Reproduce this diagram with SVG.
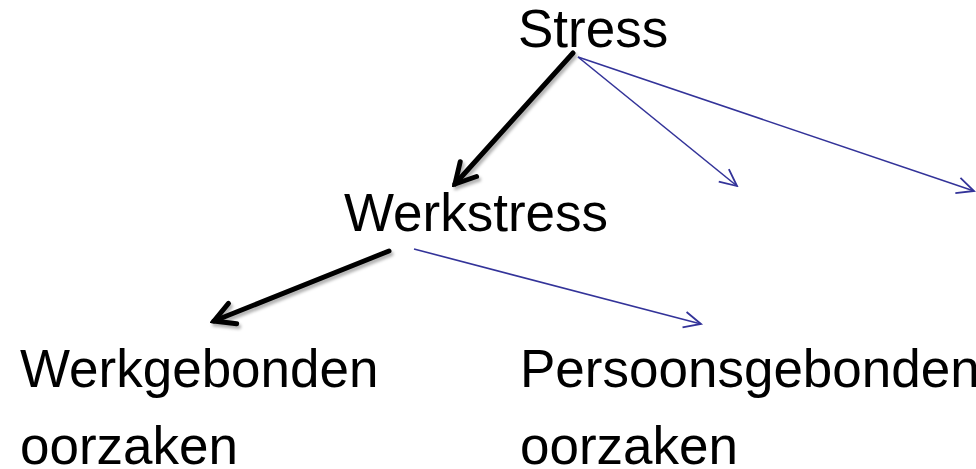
<svg xmlns="http://www.w3.org/2000/svg" width="976" height="469" viewBox="0 0 976 469">
  <style>
    text { font-family: "Liberation Sans", Arial, sans-serif; font-size: 53px; fill: #000; }
    .blk { stroke: #000; stroke-width: 5; fill: none; stroke-linecap: round; }
    .blu { stroke: #333399; stroke-width: 1.6; fill: none; }
  </style>
  <defs>
    <marker id="ah-blk" markerUnits="userSpaceOnUse" viewBox="-24 -14 28 28" refX="0" refY="0" markerWidth="28" markerHeight="28" orient="auto">
      <path d="M-20,-11 L0,0 L-20,11" fill="none" stroke="#000" stroke-width="5" stroke-linecap="round" stroke-linejoin="miter"/>
    </marker>
    <marker id="ah-blu" markerUnits="userSpaceOnUse" viewBox="-20 -10 22 20" refX="0" refY="0" markerWidth="22" markerHeight="20" orient="auto">
      <path d="M-17,-8 L0,0 L-17,8" fill="none" stroke="#333399" stroke-width="1.8"/>
    </marker>
    <filter id="sh" x="-20%" y="-20%" width="140%" height="140%">
      <feDropShadow dx="2" dy="3" stdDeviation="1.5" flood-color="#000" flood-opacity="0.3"/>
    </filter>
  </defs>

  <g id="connectors">
    <line class="blk" x1="573" y1="53" x2="455" y2="184" marker-end="url(#ah-blk)" filter="url(#sh)"/>
    <line class="blk" x1="389" y1="251" x2="214" y2="321" marker-end="url(#ah-blk)" filter="url(#sh)"/>
    <line class="blu" x1="578" y1="57" x2="737" y2="186" marker-end="url(#ah-blu)"/>
    <line class="blu" x1="578" y1="57" x2="974" y2="191" marker-end="url(#ah-blu)"/>
    <line class="blu" x1="414" y1="249" x2="701" y2="324" marker-end="url(#ah-blu)"/>
  </g>

  <g id="node-stress"><text x="518" y="47">Stress</text></g>
  <g id="node-werkstress"><text x="344" y="231">Werkstress</text></g>
  <g id="node-werkgebonden"><text x="20" y="387">Werkgebonden</text><text x="20" y="464">oorzaken</text></g>
  <g id="node-persoonsgebonden"><text x="520" y="387">Persoonsgebonden</text><text x="520" y="464">oorzaken</text></g>
</svg>
